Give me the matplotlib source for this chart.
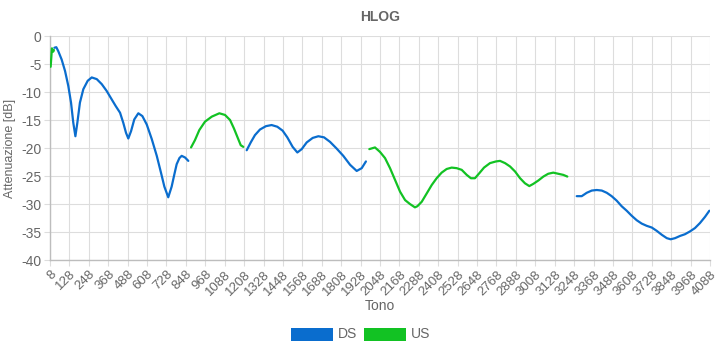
import matplotlib
matplotlib.use("Agg")
import matplotlib.pyplot as plt
from matplotlib.patches import Rectangle

plt.rcParams["font.family"] = ["Liberation Sans", "DejaVu Sans"]

# HLOG per band: tone index -> attenuation [dB]
us0_tone = [12, 20, 28, 32]
us0_db = [-5.5, -2.2, -2.8, -2.5]

ds1_tone = [35, 47, 59, 80, 101, 121, 138, 152, 165, 177, 193, 214, 241, 266, 297,
            328, 358, 389, 414, 441, 461, 478, 492, 509, 529, 554, 579, 606, 637,
            668, 694, 715, 739, 760, 776, 791, 808, 822, 843, 863]
ds1_db = [-2.1, -2.0, -2.7, -4.2, -6.25, -8.9, -11.9, -15.5, -17.9, -15.5, -11.9,
          -9.5, -8.0, -7.4, -7.7, -8.6, -9.8, -11.3, -12.5, -13.7, -15.5, -17.3,
          -18.3, -17.0, -14.9, -13.8, -14.3, -15.8, -18.4, -21.4, -24.4, -26.9,
          -28.8, -26.9, -24.8, -22.9, -21.8, -21.4, -21.7, -22.3]

us1_tone = [880, 904, 931, 966, 1008, 1055, 1090, 1121, 1145, 1166, 1187, 1203]
us1_db = [-19.9, -18.6, -16.8, -15.3, -14.4, -13.8, -14.1, -15.0, -16.5, -18.0,
          -19.5, -19.8]

ds2_tone = [1224, 1249, 1275, 1306, 1343, 1378, 1413, 1446, 1475, 1508, 1537, 1564,
            1595, 1632, 1667, 1702, 1739, 1780, 1821, 1863, 1904, 1935, 1961]
ds2_db = [-20.4, -19.0, -17.7, -16.7, -16.1, -15.9, -16.2, -16.9, -18.1, -19.8,
          -20.8, -20.2, -19.0, -18.2, -17.9, -18.1, -18.9, -20.1, -21.4, -23.0,
          -24.1, -23.6, -22.4]

us2_tone = [1982, 2017, 2048, 2079, 2110, 2141, 2172, 2203, 2233, 2264, 2279, 2306,
            2337, 2368, 2398, 2429, 2460, 2491, 2522, 2553, 2584, 2610, 2635, 2662,
            2691, 2728, 2765, 2790, 2821, 2852, 2883, 2914, 2944, 2971, 2996, 3027,
            3058, 3088, 3119, 3150, 3181, 3206]
us2_db = [-20.2, -19.9, -20.7, -21.8, -23.6, -25.7, -27.8, -29.3, -30.0, -30.6,
          -30.4, -29.6, -28.1, -26.6, -25.4, -24.4, -23.75, -23.5, -23.6, -23.9,
          -24.8, -25.4, -25.4, -24.5, -23.5, -22.7, -22.4, -22.3, -22.7, -23.3,
          -24.2, -25.4, -26.3, -26.8, -26.4, -25.8, -25.1, -24.6, -24.4, -24.6,
          -24.8, -25.1]

ds3_tone = [3264, 3295, 3326, 3357, 3388, 3419, 3450, 3480, 3511, 3542, 3573, 3604,
            3635, 3666, 3697, 3728, 3759, 3790, 3821, 3845, 3872, 3903, 3933, 3964,
            3995, 4026, 4057, 4084]
ds3_db = [-28.6, -28.6, -28.0, -27.6, -27.5, -27.6, -28.0, -28.6, -29.4, -30.4,
          -31.2, -32.1, -32.9, -33.5, -33.9, -34.2, -34.8, -35.5, -36.1, -36.3,
          -36.1, -35.7, -35.4, -34.9, -34.3, -33.4, -32.3, -31.2]

x_ticks = list(range(8, 4089, 120))
y_ticks = list(range(-40, 1, 5))

DS_COLOR = "#0a6dce"
US_COLOR = "#12c223"
TXT = "#666666"

fig = plt.figure(figsize=(7.2, 3.5), dpi=100)
ax = fig.add_axes([50 / 720, 90 / 350, 660 / 720, 224 / 350])

for t, v in [(ds1_tone, ds1_db), (ds2_tone, ds2_db), (ds3_tone, ds3_db)]:
    ax.plot(t, v, color=DS_COLOR, lw=1.6, solid_capstyle="round", zorder=3)
for t, v in [(us0_tone, us0_db), (us1_tone, us1_db), (us2_tone, us2_db)]:
    ax.plot(t, v, color=US_COLOR, lw=1.6, solid_capstyle="round", zorder=3)

ax.set_xlim(8, 4088)
ax.set_ylim(-40, 0)
ax.set_xticks(x_ticks)
ax.set_xticklabels([str(v) for v in x_ticks], rotation=45, ha="right",
                   rotation_mode="anchor", fontsize=9.5, color=TXT)
ax.set_yticks(y_ticks)
ax.set_yticklabels([str(v) for v in y_ticks], fontsize=10, color=TXT)
ax.grid(True, color="#dddddd", lw=0.8, zorder=0)
ax.tick_params(length=4, color="#dddddd", pad=2)
for side in ("top", "right"):
    ax.spines[side].set_visible(False)
for side in ("left", "bottom"):
    ax.spines[side].set_color("#bdbdbd")
    ax.spines[side].set_linewidth(1)

ax.set_xlabel("Tono", fontsize=10, color=TXT, labelpad=1)
ax.set_ylabel("Attenuazione [dB]", fontsize=9, color=TXT, labelpad=4)
fig.text(380 / 720, 1 - 17 / 350, "HLOG", ha="center", va="center",
         fontsize=10, weight="bold", color=TXT)

# legend boxes under the axes
for x0, label, c in [(291, "DS", DS_COLOR), (364, "US", US_COLOR)]:
    fig.add_artist(Rectangle((x0 / 720, 1 - 341 / 350), 42 / 720, 13 / 350,
                             transform=fig.transFigure, facecolor=c, edgecolor="none"))
    fig.text((x0 + 47) / 720, 1 - 334 / 350, label, ha="left", va="center",
             fontsize=10, color=TXT)

fig.savefig("out.png", dpi=100, facecolor="white")
